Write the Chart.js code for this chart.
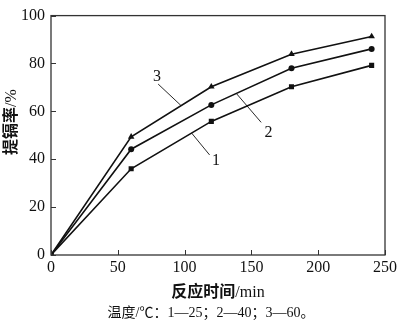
<!DOCTYPE html>
<html>
<head>
<meta charset="utf-8">
<script src="https://cdn.jsdelivr.net/npm/chart.js@4"></script>
<style>
  html, body { margin: 0; padding: 0; background: #fff; }
  #wrap { width: 400px; height: 328px; }
</style>
</head>
<body>
<div id="wrap"><canvas id="chartExtraccion" width="400" height="328"></canvas></div>
<script>
// reaction time (min) and extraction rate (%) at three temperatures
const tiempos = [0, 60, 120, 180, 240];
const serie25 = [0, 36.0, 55.8, 70.3, 79.2];
const serie40 = [0, 44.2, 62.7, 78.0, 86.1];
const serie60 = [0, 49.4, 70.3, 83.9, 91.3];
const ticksX = [0, 50, 100, 150, 200, 250];
const ticksY = [0, 20, 40, 60, 80, 100];

const fuenteNum = '"Liberation Serif", "Times New Roman", serif';
const fuenteCjk = '"Liberation Serif", "Noto Sans CJK SC", serif';

// curve labels: text anchor and leader line, in data units
const etiquetas = [
    { texto: '1', pos: [123.5, 39.2], desde: [118.7, 41.8], hasta: [105.3, 50.9] },
    { texto: '2', pos: [162.8, 51.0], desde: [157.3, 55.4], hasta: [138.7, 67.5] },
    { texto: '3', pos: [79.4, 74.4], desde: [80.2, 71.4], hasta: [97.2, 62.5] }
];

function puntos(valores) {
    return tiempos.map((t, i) => ({ x: t, y: valores[i] }));
}

// draws a title made of a bold CJK part and a plain unit part, centred on (0,0)
function titulo(ctx, negrita, normal, tam) {
    ctx.font = 'bold ' + tam + 'px ' + fuenteCjk;
    const w1 = ctx.measureText(negrita).width;
    ctx.font = tam + 'px ' + fuenteNum;
    const w2 = ctx.measureText(normal).width;
    const x0 = -(w1 + w2) / 2;
    ctx.textAlign = 'left';
    ctx.font = 'bold ' + tam + 'px ' + fuenteCjk;
    ctx.fillText(negrita, x0, 0);
    ctx.font = tam + 'px ' + fuenteNum;
    ctx.fillText(normal, x0 + w1, 0);
    ctx.textAlign = 'center';
}

const marco = {
    id: 'marco',
    afterDraw(chart) {
        const { ctx, chartArea: a, scales } = chart;
        ctx.save();
        // frame
        ctx.strokeStyle = '#333';
        ctx.lineWidth = 1.3;
        ctx.strokeRect(a.left, a.top, a.right - a.left, a.bottom - a.top);
        // inward tick marks
        ctx.lineWidth = 1;
        ticksX.forEach(v => {
            const x = Math.round(scales.x.getPixelForValue(v)) + 0.5;
            ctx.beginPath(); ctx.moveTo(x, a.bottom); ctx.lineTo(x, a.bottom - 5); ctx.stroke();
        });
        ticksY.forEach(v => {
            const y = Math.round(scales.y.getPixelForValue(v)) + 0.5;
            ctx.beginPath(); ctx.moveTo(a.left, y); ctx.lineTo(a.left + 5, y); ctx.stroke();
        });
        // curve labels with leader lines
        ctx.strokeStyle = '#111';
        ctx.fillStyle = '#111';
        ctx.lineWidth = 0.9;
        ctx.font = '16px ' + fuenteNum;
        ctx.textAlign = 'center';
        ctx.textBaseline = 'middle';
        etiquetas.forEach(e => {
            ctx.beginPath();
            ctx.moveTo(scales.x.getPixelForValue(e.desde[0]), scales.y.getPixelForValue(e.desde[1]));
            ctx.lineTo(scales.x.getPixelForValue(e.hasta[0]), scales.y.getPixelForValue(e.hasta[1]));
            ctx.stroke();
            ctx.fillText(e.texto, scales.x.getPixelForValue(e.pos[0]), scales.y.getPixelForValue(e.pos[1]));
        });
        // axis titles
        ctx.save();
        ctx.translate((a.left + a.right) / 2, 293);
        titulo(ctx, '反应时间', '/min', 16);
        ctx.restore();
        ctx.save();
        ctx.translate(12, 122);
        ctx.rotate(-Math.PI / 2);
        titulo(ctx, '提镉率', '/%', 16);
        ctx.restore();
        // temperature note
        ctx.font = '14px ' + fuenteCjk;
        ctx.fillText('温度/℃：1—25；2—40；3—60。', 211, 313);
        ctx.restore();
    }
};

function serie(etiqueta, valores, estilo, radio) {
    return {
        label: etiqueta,
        data: puntos(valores),
        borderColor: '#111',
        backgroundColor: '#111',
        borderWidth: 1.6,
        pointStyle: estilo,
        pointRadius: radio,
        pointBorderWidth: 0,
        tension: 0
    };
}

new Chart(document.getElementById('chartExtraccion').getContext('2d'), {
    type: 'line',
    data: {
        datasets: [
            serie('1', serie25, 'rect', 3.6),
            serie('2', serie40, 'circle', 3),
            serie('3', serie60, 'triangle', 3.8)
        ]
    },
    options: {
        responsive: false,
        animation: false,
        layout: { padding: { top: 6, right: 12, left: 0, bottom: 0 } },
        plugins: { legend: { display: false }, tooltip: { enabled: false } },
        scales: {
            x: {
                type: 'linear', min: 0, max: 250,
                afterBuildTicks: s => { s.ticks = ticksX.map(v => ({ value: v })); },
                afterFit: s => { s.height = 73; },
                grid: { display: false, drawTicks: false },
                border: { display: false },
                ticks: { color: '#111', padding: 3, maxRotation: 0, font: { family: fuenteNum, size: 16 } }
            },
            y: {
                type: 'linear', min: 0, max: 100,
                afterBuildTicks: s => { s.ticks = ticksY.map(v => ({ value: v })); },
                afterFit: s => { s.width = 51; },
                grid: { display: false, drawTicks: false },
                border: { display: false },
                ticks: { color: '#111', padding: 6, font: { family: fuenteNum, size: 16 } }
            }
        }
    },
    plugins: [marco]
});
</script>
</body>
</html>
